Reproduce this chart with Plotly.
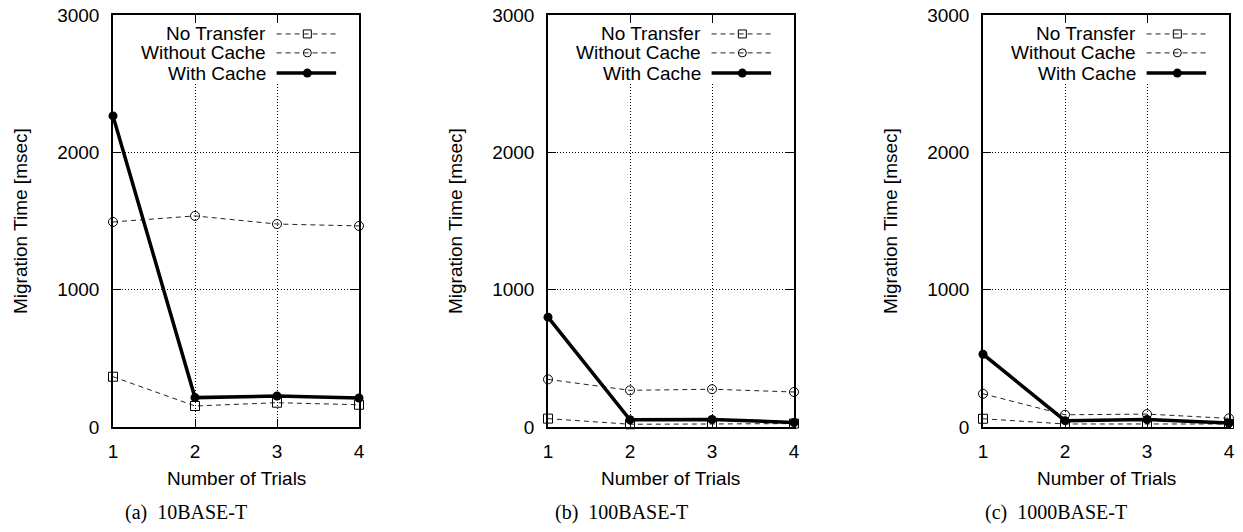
import plotly.graph_objects as go

trials = [1, 2, 3, 4]
series_names = ["No Transfer", "Without Cache", "With Cache"]
captions = ["(a)\u00a0 10BASE-T", "(b)\u00a0 100BASE-T", "(c)\u00a0 1000BASE-T"]

# panel (a) 10BASE-T
a_no_transfer = [366, 153, 177, 162]
a_without_cache = [1493, 1537, 1478, 1464]
a_with_cache = [2265, 214, 226, 211]
# panel (b) 100BASE-T
b_no_transfer = [61, 20, 22, 25]
b_without_cache = [347, 267, 275, 255]
b_with_cache = [800, 53, 55, 33]
# panel (c) 1000BASE-T
c_no_transfer = [60, 22, 22, 22]
c_without_cache = [242, 89, 94, 63]
c_with_cache = [530, 46, 55, 29]

panels = [
    (a_no_transfer, a_without_cache, a_with_cache),
    (b_no_transfer, b_without_cache, b_with_cache),
    (c_no_transfer, c_without_cache, c_with_cache),
]

y_ticks = [0, 1000, 2000, 3000]
x_ticks = [1, 2, 3, 4]
x_range = [1, 4]
y_range = [0, 3000]

W, H = 1243, 532
plot_left = [113, 548, 983]
plot_w = 246
plot_top, plot_bottom = 15, 427

FONT = "Liberation Sans, Arial, Helvetica, sans-serif"
SERIF = "Liberation Serif, Times New Roman, serif"
FS = 19
DASH_COLOR = "#222"

styles = [
    dict(mode="lines+markers", line=dict(color=DASH_COLOR, width=1, dash="5px,4px"),
         marker=dict(symbol="square-open", size=9, color="black", line=dict(width=1, color="black"))),
    dict(mode="lines+markers", line=dict(color=DASH_COLOR, width=1, dash="5px,4px"),
         marker=dict(symbol="circle-open", size=9, color="black", line=dict(width=1, color="black"))),
    dict(mode="lines+markers", line=dict(color="black", width=3.5),
         marker=dict(symbol="circle", size=9, color="black")),
]

fig = go.Figure()
annotations = []
shapes = []


def dom2x(f):
    return x_range[0] + f * (x_range[1] - x_range[0])


def dom2y(f):
    return y_range[0] + f * (y_range[1] - y_range[0])


for i, data in enumerate(panels):
    sfx = "" if i == 0 else str(i + 1)
    xa, ya = "x" + sfx, "y" + sfx
    for j, vals in enumerate(data):
        fig.add_trace(go.Scatter(x=trials, y=vals, name=series_names[j], xaxis=xa, yaxis=ya,
                                 showlegend=False, cliponaxis=False, **styles[j]))
    x0 = plot_left[i] / W
    x1 = (plot_left[i] + plot_w) / W
    y0 = (H - plot_bottom) / H
    y1 = (H - plot_top) / H
    common = dict(showline=True, linecolor="black", linewidth=1.5, mirror="ticks",
                  ticks="inside", ticklen=8, tickwidth=1, tickcolor="black",
                  showgrid=True, gridcolor="black", gridwidth=1, griddash="1px,2px",
                  zeroline=False, automargin=False,
                  tickfont=dict(family=FONT, size=FS, color="black"))
    fig.update_layout(**{
        "xaxis" + sfx: dict(domain=[x0, x1], range=x_range, tickvals=x_ticks, anchor=ya,
                            ticklabelstandoff=6, **common),
        "yaxis" + sfx: dict(domain=[y0, y1], range=y_range, tickvals=y_ticks, anchor=xa,
                            ticklabelstandoff=8, **common),
    })
    # axis titles and captions
    annotations.append(dict(xref="paper", yref="paper", x=(plot_left[i] - 93) / W,
                            y=(H - 221) / H, text="Migration Time [msec]", textangle=-90,
                            showarrow=False, font=dict(family=FONT, size=FS, color="black"),
                            xanchor="center", yanchor="middle"))
    annotations.append(dict(xref="paper", yref="paper", x=(plot_left[i] + plot_w / 2) / W,
                            y=(H - 478) / H, text="Number of Trials", showarrow=False,
                            font=dict(family=FONT, size=FS, color="black"),
                            xanchor="center", yanchor="middle"))
    annotations.append(dict(xref="paper", yref="paper", x=(plot_left[i] + plot_w / 2 - 50) / W,
                            y=(H - 512) / H, text=captions[i], showarrow=False,
                            font=dict(family=SERIF, size=20, color="black"),
                            xanchor="center", yanchor="middle"))
    # legend box (gnuplot style: text on left, sample on right)
    xd = xa + " domain"
    yd = ya + " domain"
    shapes.append(dict(type="rect", xref=xa, yref=ya, x0=dom2x(0.08), x1=dom2x(0.95),
                       y0=dom2y(0.835), y1=dom2y(0.99),
                       fillcolor="white", line=dict(width=0), layer="between"))
    rows = [0.954, 0.908, 0.859]
    for j, ry in enumerate(rows):
        annotations.append(dict(xref=xd, yref=yd, x=0.625, y=ry, text=series_names[j],
                                showarrow=False, xanchor="right", yanchor="middle", borderpad=0,
                                font=dict(family=FONT, size=FS, color="black")))
        if j < 2:
            shapes.append(dict(type="line", xref=xd, yref=yd, x0=0.665, x1=0.907, y0=ry, y1=ry,
                               line=dict(color=DASH_COLOR, width=1, dash="5px,4px")))
            shapes.append(dict(type="rect" if j == 0 else "circle", xref=xd, yref=yd,
                               xsizemode="pixel", ysizemode="pixel", xanchor=0.79, yanchor=ry,
                               x0=-4, x1=4, y0=-4, y1=4, line=dict(color="black", width=1),
                               fillcolor="rgba(0,0,0,0)"))
        else:
            shapes.append(dict(type="line", xref=xd, yref=yd, x0=0.665, x1=0.907, y0=ry, y1=ry,
                               line=dict(color="black", width=3.5)))
            shapes.append(dict(type="circle", xref=xd, yref=yd, xsizemode="pixel",
                               ysizemode="pixel", xanchor=0.79, yanchor=ry,
                               x0=-4.5, x1=4.5, y0=-4.5, y1=4.5, line=dict(color="black", width=0),
                               fillcolor="black"))

fig.update_layout(width=W, height=H, margin=dict(l=0, r=0, t=0, b=0, autoexpand=False),
                  paper_bgcolor="white", plot_bgcolor="white",
                  annotations=annotations, shapes=shapes, showlegend=False)

fig.write_html("out.html", config={"displayModeBar": False},
               post_script="document.body.style.margin='0';document.body.style.overflow='hidden';")
